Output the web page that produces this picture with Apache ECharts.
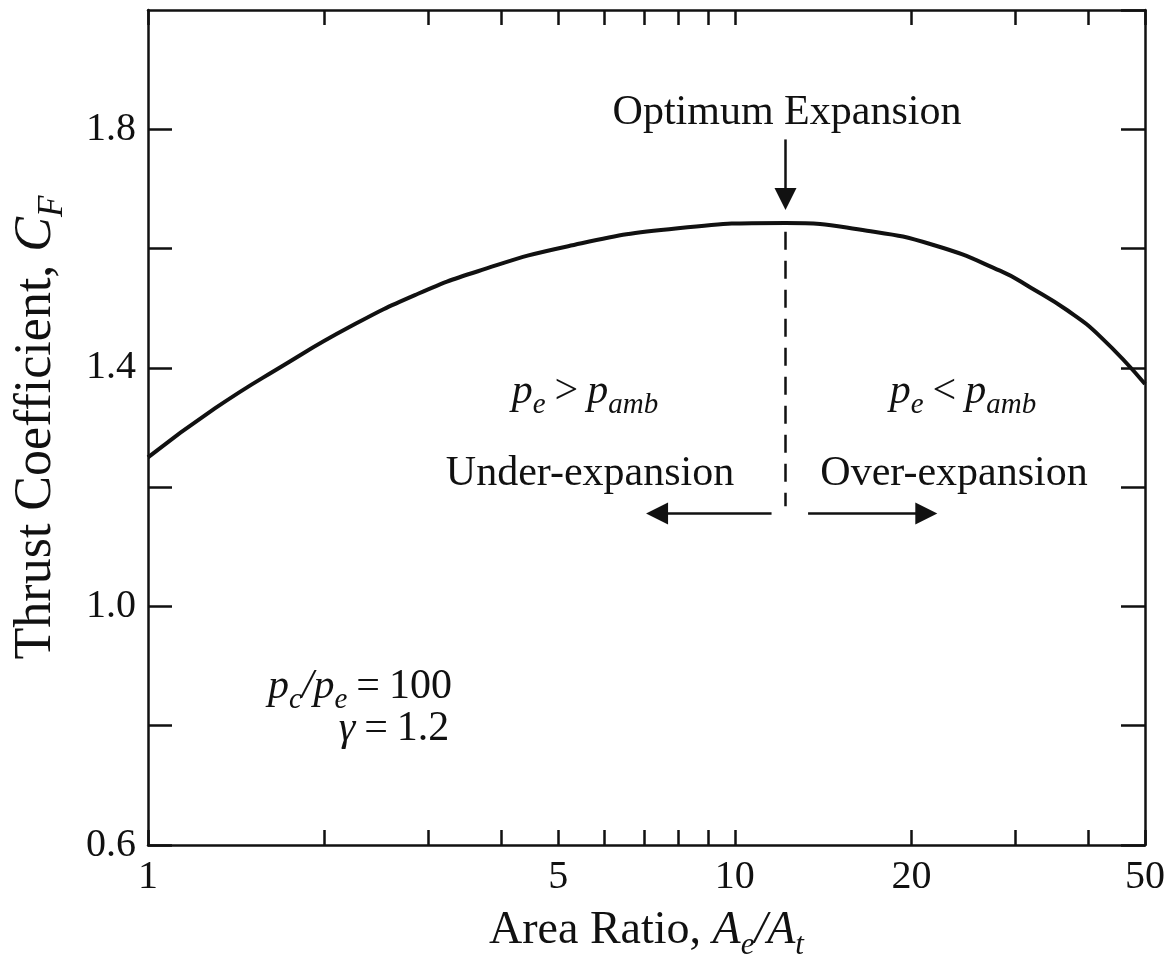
<!DOCTYPE html>
<html>
<head>
<meta charset="utf-8">
<title>Thrust Coefficient vs Area Ratio</title>
<script src="https://cdn.jsdelivr.net/npm/echarts@6.0.0/dist/echarts.min.js"></script>
<style>
  html, body { margin: 0; padding: 0; background: #ffffff; }
  #chart { width: 1170px; height: 960px; }
</style>
</head>
<body>
<div id="chart"></div>
<script>
// ---- Data ----
const areaRatio = [1, 1.3, 1.7, 2.2, 2.85, 3.65, 5.2, 8, 12.2, 16.8, 21.8, 28.3, 32, 36.8, 42, 50];
const thrustCoef = [1.250, 1.332, 1.404, 1.468, 1.522, 1.562, 1.604, 1.634, 1.643, 1.630, 1.606, 1.563, 1.534, 1.497, 1.452, 1.373];

const xTickValues = [1, 2, 3, 4, 5, 6, 7, 8, 9, 10, 20, 30, 40, 50];
const xTickLabels = [1, 5, 10, 20, 50];
const yTickLabels = ['0.6', '1.0', '1.4', '1.8'];

const optimumRatio = 12.2;

// ---- Styling ----
const INK = '#111111';
const SERIF = '"Liberation Serif", "DejaVu Serif", serif';

function makeRich(size, opPad) {
  const lh = Math.round(size * 1.3);
  return {
    r: { fontFamily: SERIF, fontSize: size, lineHeight: lh, color: INK },
    i: { fontFamily: SERIF, fontSize: size, lineHeight: lh, fontStyle: 'italic', color: INK },
    s: { fontFamily: SERIF, fontSize: Math.round(size * 0.68), fontStyle: 'italic', verticalAlign: 'bottom', color: INK },
    op: { fontFamily: SERIF, fontSize: size, lineHeight: lh, color: INK, padding: [0, opPad, 0, opPad] }
  };
}

const richAnnot = makeRich(42, 9);
const richX = makeRich(46, 0);
const richY = makeRich(52, 0);

const seriesData = areaRatio.map((x, k) => [x, thrustCoef[k]]);

function baseXAxis(position, showLabels) {
  return {
    type: 'log',
    logBase: 10,
    min: 1,
    max: 50,
    position: position,
    axisLine: { show: true, onZero: false, lineStyle: { color: INK, width: 2.5 } },
    axisTick: { show: true, inside: true, length: 15, customValues: xTickValues, lineStyle: { color: INK, width: 2.5 } },
    minorTick: { show: false },
    splitLine: { show: false },
    axisLabel: {
      show: showLabels,
      customValues: xTickLabels,
      margin: 12,
      fontFamily: SERIF,
      fontSize: 40,
      color: INK,
      formatter: function (v) { return String(Math.round(v)); }
    }
  };
}

function baseYAxis(position, showLabels) {
  return {
    type: 'value',
    min: 0.6,
    max: 2.0,
    interval: 0.2,
    position: position,
    axisLine: { show: true, onZero: false, lineStyle: { color: INK, width: 2.5 } },
    axisTick: { show: true, inside: true, length: 24, lineStyle: { color: INK, width: 2.5 } },
    splitLine: { show: false },
    axisLabel: {
      show: showLabels,
      margin: 12,
      fontFamily: SERIF,
      fontSize: 40,
      color: INK,
      showMaxLabel: false,
      formatter: function (v) {
        const t = v.toFixed(1);
        return yTickLabels.indexOf(t) >= 0 ? t : '';
      }
    }
  };
}

const xMain = baseXAxis('bottom', true);
xMain.name = '{r|Area Ratio, }{i|A}{s|e}{i|/A}{s|t}';
xMain.nameLocation = 'middle';
xMain.nameGap = 56;
xMain.nameTextStyle = { fontFamily: SERIF, fontSize: 46, color: INK, rich: richX };

const yMain = baseYAxis('left', true);
yMain.name = '{r|Thrust Coefficient, }{i|C}{s|F}';
yMain.nameLocation = 'middle';
yMain.nameGap = 78;
yMain.nameTextStyle = { fontFamily: SERIF, fontSize: 52, color: INK, rich: richY };

const xTop = baseXAxis('top', false);
const yRight = baseYAxis('right', false);

function annot(x, y, text) {
  return {
    type: 'text',
    x: x,
    y: y,
    silent: true,
    style: {
      text: text,
      rich: richAnnot,
      fontFamily: SERIF,
      fontSize: 42,
      fill: INK,
      align: 'center',
      verticalAlign: 'middle'
    }
  };
}

const option = {
  animation: false,
  backgroundColor: '#ffffff',
  grid: { left: 148, right: 25, top: 10, bottom: 115, containLabel: false, outerBoundsMode: 'none' },
  xAxis: [xMain, xTop],
  yAxis: [yMain, yRight],
  series: [{
    type: 'line',
    xAxisIndex: 0,
    yAxisIndex: 0,
    data: seriesData,
    smooth: 0.5,
    symbol: 'none',
    lineStyle: { color: INK, width: 4 },
    markLine: {
      silent: true,
      animation: false,
      symbol: ['none', 'triangle'],
      symbolSize: 22,
      label: { show: false },
      lineStyle: { color: INK, width: 2.5, type: 'solid' },
      data: [
        [
          { coord: [optimumRatio, 1.628], symbol: 'none', lineStyle: { color: INK, width: 2.5, type: [18, 11] } },
          { coord: [optimumRatio, 1.168], symbol: 'none' }
        ],
        [
          { coord: [optimumRatio, 1.783] },
          { coord: [optimumRatio, 1.683] }
        ],
        [
          { coord: [11.55, 1.156] },
          { coord: [7.37, 1.156] }
        ],
        [
          { coord: [13.33, 1.156] },
          { coord: [21.2, 1.156] }
        ]
      ]
    }
  }],
  graphic: [
    annot(787, 113, '{r|Optimum Expansion}'),
    annot(585, 392, '{i|p}{s|e}{op|>}{i|p}{s|amb}'),
    annot(963, 392, '{i|p}{s|e}{op|<}{i|p}{s|amb}'),
    annot(590, 474, '{r|Under-expansion}'),
    annot(954, 474, '{r|Over-expansion}'),
    annot(360, 687, '{i|p}{s|c}{i|/}{i|p}{s|e}{op|=}{r|100}'),
    annot(394, 729, '{i|γ}{op|=}{r|1.2}')
  ]
};

const chart = echarts.init(document.getElementById('chart'), null, { renderer: 'canvas' });
chart.setOption(option);
</script>
</body>
</html>
